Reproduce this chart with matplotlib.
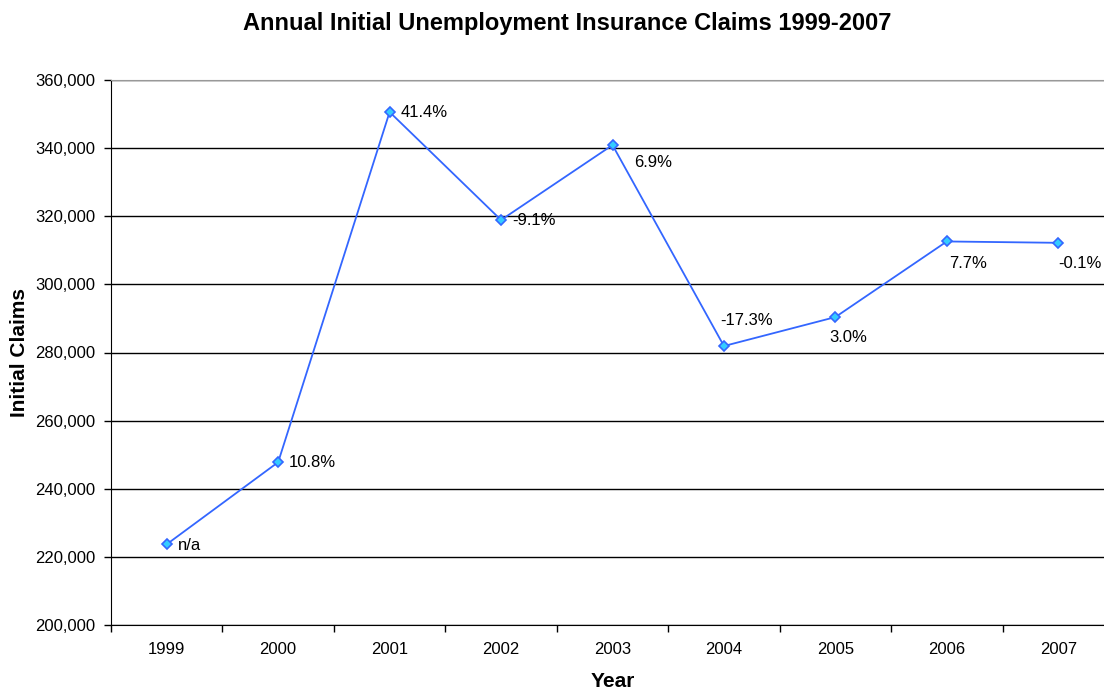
import matplotlib.pyplot as plt
from matplotlib.ticker import FuncFormatter, FixedLocator

plt.rcParams['font.family'] = ['Liberation Sans', 'DejaVu Sans']

years = ['1999', '2000', '2001', '2002', '2003', '2004', '2005', '2006', '2007']
claims = [223700, 247800, 350600, 318900, 340900, 281900, 290400, 312600, 312200]
pct_labels = ['n/a', '10.8%', '41.4%', '-9.1%', '6.9%', '-17.3%', '3.0%', '7.7%', '-0.1%']

# label offsets in pixels (dx, dy), as placed in the original
label_offsets = [(11, -1), (11, 0), (11, 0), (11, -1), (22, -17), (-4, 26), (-6, -20), (2, -22), (0, -21)]

fig = plt.figure(figsize=(11.04, 6.9), dpi=100)
ax = fig.add_axes([111 / 1104, 65 / 690, 1003 / 1104, 545 / 690])

x = list(range(len(years)))
ax.plot(x, claims, color='#3366FF', lw=1.3, marker='D', markersize=5,
        markerfacecolor='#33CCFF', markeredgecolor='#3366FF', markeredgewidth=1.2, zorder=3)

for xi, yi, lab, (dx, dy) in zip(x, claims, pct_labels, label_offsets):
    ax.annotate(lab, (xi, yi), xytext=(dx, dy), textcoords='offset pixels',
                ha='left', va='center', fontsize=12, color='black')

ax.set_xlim(-0.5, len(years) - 0.5)
ax.set_ylim(200000, 360000)
ax.set_yticks(range(200000, 360001, 20000))
ax.yaxis.set_major_formatter(FuncFormatter(lambda v, p: f'{int(v):,}'))
ax.grid(axis='y', color='black', lw=1)
ax.set_axisbelow(True)

ax.xaxis.set_major_locator(FixedLocator([i - 0.5 for i in range(len(years) + 1)]))
ax.xaxis.set_minor_locator(FixedLocator(x))
ax.set_xticklabels([])
ax.set_xticklabels(years, minor=True)
ax.tick_params(axis='x', which='major', length=5, width=1, color='black')
ax.tick_params(axis='x', which='minor', length=0, pad=12, labelsize=12)
ax.tick_params(axis='y', length=5, width=1, labelsize=12, pad=6)

ax.spines['right'].set_visible(False)
ax.spines['top'].set_color('#999999')
ax.spines['left'].set_color('black')
ax.spines['bottom'].set_color('black')

ax.set_xlabel('Year', fontsize=15, fontweight='bold', labelpad=11)
ax.set_ylabel('Initial Claims', fontsize=15, fontweight='bold', labelpad=5)
fig.suptitle('Annual Initial Unemployment Insurance Claims 1999-2007', fontsize=17,
             fontweight='bold', x=0.5137, y=0.983)

fig.savefig('out.png', dpi=100)
